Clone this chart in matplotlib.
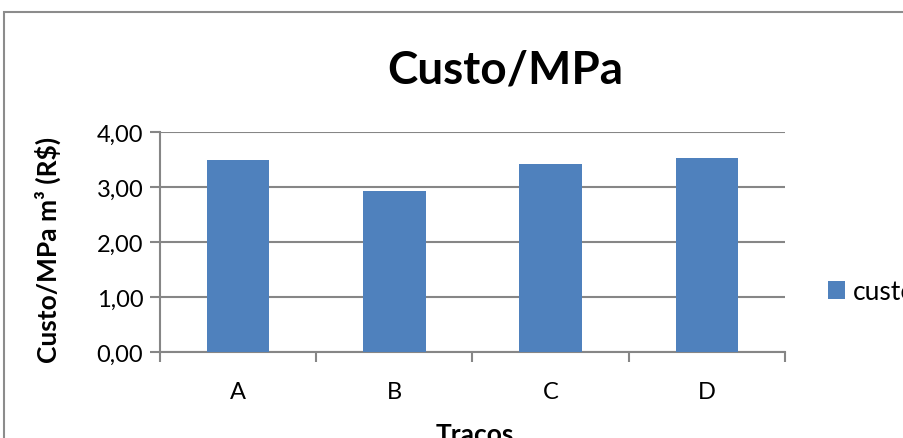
import matplotlib
matplotlib.use("Agg")
import matplotlib.pyplot as plt
from matplotlib.patches import Rectangle
from matplotlib.ticker import FuncFormatter

plt.rcParams["font.family"] = ["Lato", "DejaVu Sans"]

# custo por MPa de cada traço
tracos = ["A", "B", "C", "D"]
custo = [3.50, 2.92, 3.42, 3.53]
y_ticks = [0.0, 1.0, 2.0, 3.0, 4.0]

BAR_COLOR = "#4F81BD"
AXIS_GRAY = "#868686"

W, H = 904, 439
fig = plt.figure(figsize=(W / 100, H / 100), dpi=100)

# chart frame (runs off the right/bottom edge)
fig.patches.append(Rectangle((4 / W, -0.1), 1.2, 1 - 13 / H + 0.1,
                             transform=fig.transFigure, fill=False,
                             edgecolor="#8C8C8C", linewidth=1.5))

ax = fig.add_axes([160 / W, 1 - 353 / H, 625 / W, 220 / H])
x = range(len(tracos))
bars = ax.bar(x, custo, width=0.4, color=BAR_COLOR, label="custo", zorder=3)

ax.set_xlim(-0.5, len(tracos) - 0.5)
ax.set_ylim(0, 4)
ax.set_yticks(y_ticks)
ax.yaxis.set_major_formatter(FuncFormatter(lambda v, _: f"{v:.2f}".replace(".", ",")))
ax.set_xticks(list(x))
ax.set_xticklabels(tracos)
ax.set_xticks([i - 0.5 for i in range(len(tracos) + 1)], minor=True)
ax.tick_params(axis="x", which="major", length=0, labelsize=17, pad=21)
ax.tick_params(axis="x", which="minor", length=7, width=1.5, color=AXIS_GRAY)
ax.tick_params(axis="y", length=7, width=1.5, color=AXIS_GRAY, labelsize=17, pad=5)

ax.grid(axis="y", color=AXIS_GRAY, linewidth=1.5, zorder=0)
for side in ["top", "right"]:
    ax.spines[side].set_visible(False)
for side in ["left", "bottom"]:
    ax.spines[side].set_color(AXIS_GRAY)
    ax.spines[side].set_linewidth(1.5)

fig.text(505 / W, 1 - 70 / H, "Custo/MPa", ha="center", va="center",
         fontsize=33, fontweight="bold")
ax.set_ylabel("Custo/MPa m³ (R$)", fontsize=19, fontweight="bold")
ax.yaxis.set_label_coords((61 - 160) / 625, (353 - 250) / 220)
fig.text(475 / W, 1 - 423 / H, "Tracos", ha="center", va="top",
         fontsize=19, fontweight="bold")

fig.legend(handles=[bars], loc="center left",
           bbox_to_anchor=(828 / W, 1 - 293 / H), frameon=False,
           fontsize=19, handlelength=0.65, handleheight=0.65,
           handletextpad=0.3, borderpad=0, borderaxespad=0)

fig.savefig("out.png", dpi=100)
